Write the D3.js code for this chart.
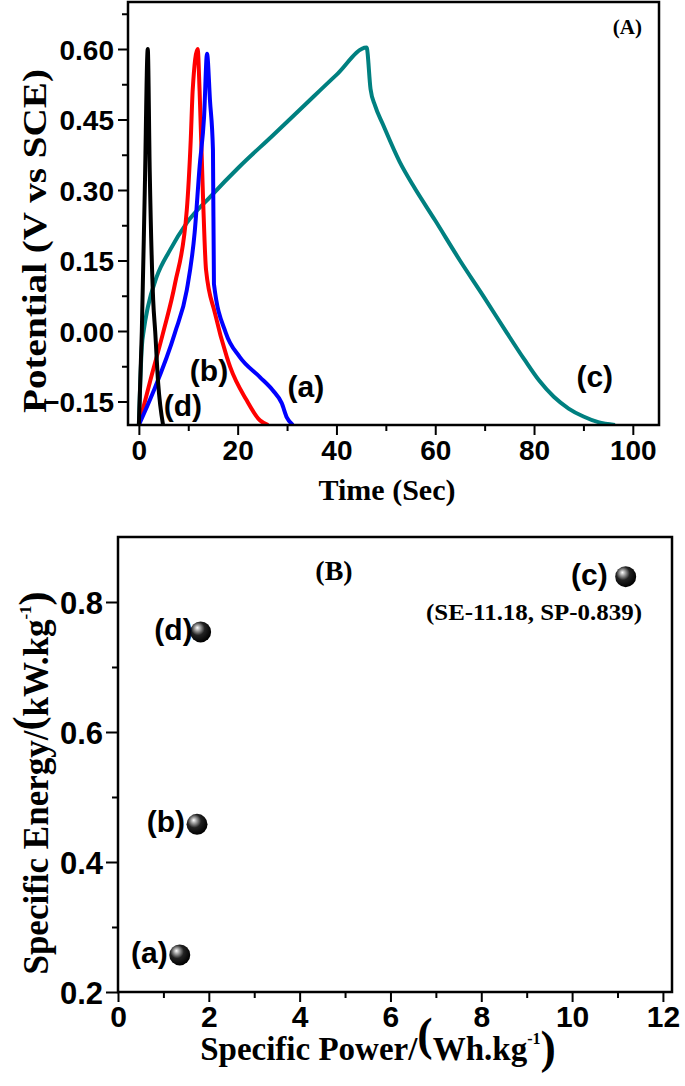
<!DOCTYPE html>
<html><head><meta charset="utf-8">
<script src="https://cdn.jsdelivr.net/npm/d3@7"></script>
<style>body{margin:0;background:#fff} svg{display:block}</style>
</head><body><svg id="c" width="685" height="1086"></svg>
<script>
// ---- Panel A data: galvanostatic charge/discharge curves ----
const timeA = [0, 2.9, 7.3, 9.7, 11.3, 12.3, 13.2, 13.8, 14.4, 15.0, 15.2, 17.6, 20.4, 24.5, 27.1, 28.9, 30.0, 31.2];
const potA  = [-0.2, -0.13, -0.004, 0.087, 0.21, 0.35, 0.455, 0.59, 0.49, 0.385, 0.10, -0.004, -0.055, -0.098, -0.126, -0.153, -0.185, -0.2];
const timeB = [0, 2.2, 4.9, 7.3, 9.7, 10.5, 10.9, 11.9, 12.3, 13.0, 13.6, 15.4, 17.8, 18.5, 21.8, 24.5, 26.2];
const potB  = [-0.2, -0.11, -0.004, 0.10, 0.257, 0.406, 0.513, 0.60, 0.51, 0.28, 0.13, 0.038, -0.055, -0.077, -0.147, -0.19, -0.2];
const timeC = [0, 0.6, 1.0, 1.8, 3.6, 6.3, 9.7, 14.4, 20.4, 27.0, 33.0, 40.0, 46.1, 46.9, 47.8, 49.4, 52.8, 55.5, 60.0, 65.0, 70.0, 74.5, 78.0, 81.0, 84.0, 87.0, 90.0, 93.0, 96.4];
const potC  = [-0.2, -0.034, 0.002, 0.05, 0.115, 0.172, 0.23, 0.285, 0.35, 0.415, 0.475, 0.545, 0.603, 0.515, 0.48, 0.44, 0.36, 0.31, 0.235, 0.15, 0.07, -0.004, -0.06, -0.105, -0.14, -0.165, -0.182, -0.194, -0.2];
const timeD = [0, 0.6, 1.2, 1.8, 2.2, 2.9, 3.3, 3.9, 4.9];
const potD  = [-0.2, 0.0, 0.3, 0.6, 0.34, 0.065, 0.0, -0.11, -0.2];
const seriesNames  = ["(a)", "(b)", "(c)", "(d)"];
const seriesColors = ["#0000ff", "#ff0000", "#008080", "#000000"];
const timeTicks = [0, 20, 40, 60, 80, 100];
const timeMinor = [10, 30, 50, 70, 90];
const potTicks = [-0.15, 0.00, 0.15, 0.30, 0.45, 0.60];
const potMinor = [-0.075, 0.075, 0.225, 0.375, 0.525, 0.675];

// ---- Panel B data: Ragone-type points ----
const pointNames = ["(a)", "(b)", "(c)", "(d)"];
const specPower  = [1.36, 1.74, 11.18, 1.82];
const specEnergy = [0.257, 0.458, 0.839, 0.754];
const powerTicks = [0, 2, 4, 6, 8, 10, 12];
const powerMinor = [1, 3, 5, 7, 9, 11];
const energyTicks = [0.2, 0.4, 0.6, 0.8];
const energyMinor = [0.3, 0.5, 0.7];

const svg = d3.select("#c");
const SANS = "'Liberation Sans', Arial, sans-serif";
const SERIF = "'Liberation Serif', 'Times New Roman', serif";

const defs = svg.append("defs");
const g = defs.append("radialGradient").attr("id", "sph")
  .attr("cx", "40%").attr("cy", "38%").attr("r", "62%").attr("fx", "34%").attr("fy", "30%");
g.append("stop").attr("offset", "0%").attr("stop-color", "#ffffff");
g.append("stop").attr("offset", "20%").attr("stop-color", "#a8a8a8");
g.append("stop").attr("offset", "52%").attr("stop-color", "#222222");
g.append("stop").attr("offset", "100%").attr("stop-color", "#000000");

function styleAxis(sel, size) {
  sel.select(".domain").remove();
  sel.selectAll(".tick line").attr("stroke", "#000").attr("stroke-width", 2);
  sel.selectAll(".tick text").attr("fill", "#000")
    .style("font-family", SANS).style("font-weight", "bold").style("font-size", size + "px");
}

// ================= Panel A =================
const A = {l: 128, r: 659, t: 2, b: 425};
const xA = d3.scaleLinear().domain([-2.2, 105.3]).range([A.l, A.r]);
const yA = d3.scaleLinear().domain([-0.2, 0.7]).range([A.b, A.t]);

defs.append("clipPath").attr("id", "clipA").append("rect")
  .attr("x", A.l).attr("y", A.t).attr("width", A.r - A.l).attr("height", A.b - A.t);

const axA1 = svg.append("g").attr("transform", `translate(0,${A.b})`)
  .call(d3.axisBottom(xA).tickValues(timeTicks).tickSize(10).tickPadding(5).tickFormat(d3.format("d")));
styleAxis(axA1, 28);
const axA2 = svg.append("g").attr("transform", `translate(0,${A.b})`)
  .call(d3.axisBottom(xA).tickValues(timeMinor).tickSize(6).tickFormat(""));
styleAxis(axA2, 28);
const ayA1 = svg.append("g").attr("transform", `translate(${A.l},0)`)
  .call(d3.axisLeft(yA).tickValues(potTicks).tickSize(10).tickPadding(4).tickFormat(d3.format(".2f")));
styleAxis(ayA1, 28);
ayA1.selectAll(".tick text").attr("dy", "0.36em");
const ayA2 = svg.append("g").attr("transform", `translate(${A.l},0)`)
  .call(d3.axisLeft(yA).tickValues(potMinor).tickSize(6).tickFormat(""));
styleAxis(ayA2, 28);

const seriesA = [
  {t: timeA, v: potA}, {t: timeB, v: potB}, {t: timeC, v: potC}, {t: timeD, v: potD}
];
const line = d3.line().x(d => xA(d[0])).y(d => yA(d[1])).curve(d3.curveMonotoneX);
const plotA = svg.append("g").attr("clip-path", "url(#clipA)");
// draw order: teal, red, blue, black
[2, 1, 0, 3].forEach(i => {
  const s = seriesA[i];
  plotA.append("path").datum(s.t.map((t, k) => [t, s.v[k]]))
    .attr("d", line).attr("fill", "none").attr("stroke", seriesColors[i])
    .attr("stroke-width", 4).attr("stroke-linejoin", "round");
});

svg.append("rect").attr("x", A.l).attr("y", A.t).attr("width", A.r - A.l).attr("height", A.b - A.t)
  .attr("fill", "none").attr("stroke", "#000").attr("stroke-width", 2.5);

// curve labels
const labA = [[33.8, -0.14], [14.2, -0.106], [92.3, -0.119], [8.9, -0.181]];
labA.forEach((p, i) => {
  svg.append("text").attr("x", xA(p[0])).attr("y", yA(p[1])).attr("text-anchor", "middle")
    .style("font-family", SANS).style("font-weight", "bold").style("font-size", "30px")
    .text(seriesNames[i]);
});
svg.append("text").attr("x", 642).attr("y", 34).attr("text-anchor", "end")
  .style("font-family", SERIF).style("font-weight", "bold").style("font-size", "21px").text("(A)");

svg.append("text").attr("x", 387).attr("y", 500).attr("text-anchor", "middle")
  .style("font-family", SERIF).style("font-weight", "bold").style("font-size", "30px").text("Time (Sec)");
svg.append("text").attr("transform", "translate(46,241) rotate(-90)").attr("text-anchor", "middle")
  .attr("textLength", 344).attr("lengthAdjust", "spacingAndGlyphs")
  .style("font-family", SERIF).style("font-weight", "bold").style("font-size", "34px")
  .text("Potential (V vs SCE)");

// ================= Panel B =================
const B = {l: 118, r: 672, t: 537, b: 992};
const xB = d3.scaleLinear().domain([0, 12.2]).range([B.l, B.r]);
const yB = d3.scaleLinear().domain([0.2, 0.9]).range([B.b, B.t]);

const axB1 = svg.append("g").attr("transform", `translate(0,${B.b})`)
  .call(d3.axisBottom(xB).tickValues(powerTicks).tickSize(10).tickPadding(4).tickFormat(d3.format("d")));
styleAxis(axB1, 30);
const axB2 = svg.append("g").attr("transform", `translate(0,${B.b})`)
  .call(d3.axisBottom(xB).tickValues(powerMinor).tickSize(6).tickFormat(""));
styleAxis(axB2, 30);
const ayB1 = svg.append("g").attr("transform", `translate(${B.l},0)`)
  .call(d3.axisLeft(yB).tickValues(energyTicks).tickSize(12).tickPadding(3).tickFormat(d3.format(".1f")));
styleAxis(ayB1, 31);
ayB1.selectAll(".tick text").attr("dy", "0.36em");
const ayB2 = svg.append("g").attr("transform", `translate(${B.l},0)`)
  .call(d3.axisLeft(yB).tickValues(energyMinor).tickSize(6).tickFormat(""));
styleAxis(ayB2, 31);

svg.append("rect").attr("x", B.l).attr("y", B.t).attr("width", B.r - B.l).attr("height", B.b - B.t)
  .attr("fill", "none").attr("stroke", "#000").attr("stroke-width", 2.5);

const labelDx = [-12, -12, -18, -8];
specPower.forEach((p, i) => {
  const cx = xB(p), cy = yB(specEnergy[i]);
  svg.append("circle").attr("cx", cx).attr("cy", cy).attr("r", 10.5).attr("fill", "url(#sph)");
  svg.append("text").attr("x", cx + labelDx[i]).attr("y", cy + 8).attr("text-anchor", "end")
    .style("font-family", SANS).style("font-weight", "bold").style("font-size", "30px")
    .text(pointNames[i]);
});
svg.append("text").attr("x", 334).attr("y", 580).attr("text-anchor", "middle")
  .style("font-family", SERIF).style("font-weight", "bold").style("font-size", "28px").text("(B)");
svg.append("text").attr("x", 426).attr("y", 620)
  .attr("textLength", 216).attr("lengthAdjust", "spacingAndGlyphs")
  .style("font-family", SERIF).style("font-weight", "bold").style("font-size", "23px")
  .text("(SE-11.18, SP-0.839)");

// x title with big parentheses
const xt = svg.append("text").attr("x", 378).attr("y", 1060).attr("text-anchor", "middle")
  .style("font-family", SERIF).style("font-weight", "bold").style("font-size", "33px");
xt.append("tspan").text("Specific Power/");
xt.append("tspan").attr("dy", -10).style("font-size", "46px").text("(");
xt.append("tspan").attr("dy", 10).text("Wh.kg");
xt.append("tspan").attr("dy", -16).style("font-size", "16px").text("-1");
xt.append("tspan").attr("dy", 19).style("font-size", "46px").text(")");

const yt = svg.append("text").attr("transform", "translate(48,783) rotate(-90)").attr("text-anchor", "middle")
  .style("font-family", SERIF).style("font-weight", "bold").style("font-size", "35px");
yt.append("tspan").text("Specific Energy/");
yt.append("tspan").attr("dy", -6).style("font-size", "42px").text("(");
yt.append("tspan").attr("dy", 6).text("kW.kg");
yt.append("tspan").attr("dy", -17).style("font-size", "17px").text("-1");
yt.append("tspan").attr("dy", 17).style("font-size", "42px").text(")");
</script></body></html>
